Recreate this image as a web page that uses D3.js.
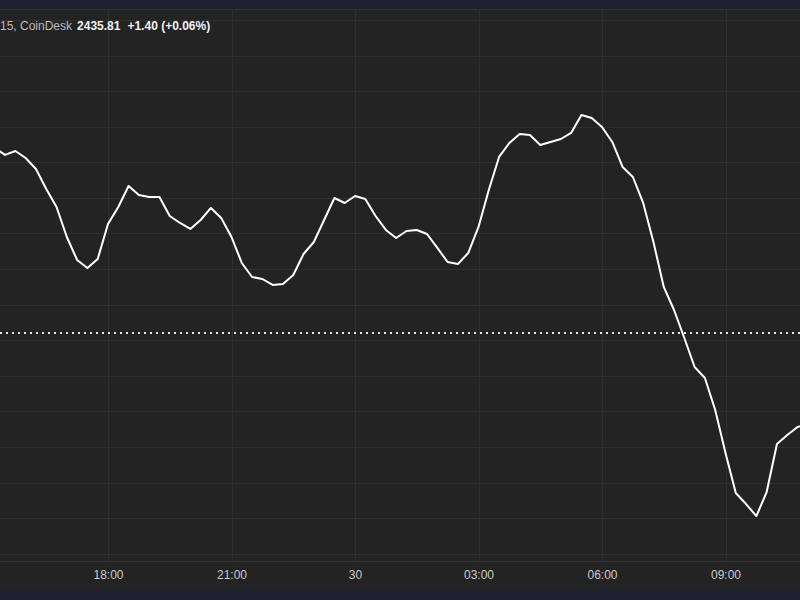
<!DOCTYPE html>
<html>
<head>
<meta charset="utf-8">
<script src="https://cdn.jsdelivr.net/npm/d3@7"></script>
<style>
  html, body { margin: 0; padding: 0; background: #1c2030; }
  svg { display: block; }
</style>
</head>
<body>
<svg id="chart" width="800" height="600"></svg>
<script>
// ---- data ----
const times = [
  "29 15:15","29 15:30","29 15:45","29 16:00","29 16:15","29 16:30","29 16:45","29 17:00","29 17:15","29 17:30","29 17:45",
  "29 18:00","29 18:15","29 18:30","29 18:45","29 19:00","29 19:15","29 19:30","29 19:45","29 20:00","29 20:15","29 20:30","29 20:45",
  "29 21:00","29 21:15","29 21:30","29 21:45","29 22:00","29 22:15","29 22:30","29 22:45","29 23:00","29 23:15","29 23:30","29 23:45",
  "30 00:00","30 00:15","30 00:30","30 00:45","30 01:00","30 01:15","30 01:30","30 01:45","30 02:00","30 02:15","30 02:30","30 02:45",
  "30 03:00","30 03:15","30 03:30","30 03:45","30 04:00","30 04:15","30 04:30","30 04:45","30 05:00","30 05:15","30 05:30","30 05:45",
  "30 06:00","30 06:15","30 06:30","30 06:45","30 07:00","30 07:15","30 07:30","30 07:45","30 08:00","30 08:15","30 08:30","30 08:45",
  "30 09:00","30 09:15","30 09:30","30 09:45","30 10:00","30 10:15","30 10:30","30 10:45","30 11:00"
];
const prices = [
  2462.01, 2461.03, 2461.59, 2460.60, 2459.06, 2456.25, 2453.72, 2449.50, 2446.27, 2445.15, 2446.41,
  2451.33, 2453.72, 2456.67, 2455.41, 2455.12, 2455.12, 2452.45, 2451.47, 2450.63, 2451.89, 2453.58, 2452.17,
  2449.50, 2445.85, 2443.88, 2443.60, 2442.76, 2442.90, 2444.16, 2447.11, 2448.80, 2451.89, 2454.98, 2454.28,
  2455.26, 2454.84, 2452.45, 2450.49, 2449.36, 2450.35, 2450.49, 2449.92, 2447.96, 2445.99, 2445.71, 2447.25,
  2450.91, 2456.11, 2460.75, 2462.71, 2463.98, 2463.84, 2462.43, 2462.85, 2463.27, 2464.12, 2466.65, 2466.23,
  2464.96, 2462.85, 2459.34, 2457.93, 2454.28, 2448.80, 2442.48, 2439.24, 2435.31, 2431.23, 2429.69, 2425.19,
  2419.15, 2413.53, 2411.98, 2410.29, 2413.67, 2420.41, 2421.68, 2422.80, 2423.22
];
const tickTimes = ["29 18:00","29 21:00","30 00:00","30 03:00","30 06:00","30 09:00"];
const tickLabels = ["18:00","21:00","30","03:00","06:00","09:00"];
const gridPrices = [2400,2405,2410,2415,2420,2425,2430,2435,2440,2445,2450,2455,2460,2465,2470,2475,2480];
const refPrice = 2436.0;
const titleSymbol = "15, CoinDesk";
const titleLast = "2435.81";
const titleChange = "+1.40 (+0.06%)";

// ---- layout ----
const W = 800, H = 600;
const paneTop = 9, paneBottom = 561, axisBottom = 590;
const parse = d3.utcParse("%d %H:%M");
const data = times.map((t, i) => ({ t: parse(t), v: prices[i] }));

const x = d3.scaleUtc()
  .domain([parse("29 18:00"), parse("30 09:00")])
  .range([108, 725.5]);
const y = d3.scaleLinear()
  .domain([2435, 2470])
  .range([340.2, 91.1]);

const svg = d3.select("#chart");

// backgrounds
svg.append("rect").attr("x", 0).attr("y", 0).attr("width", W).attr("height", H).attr("fill", "#1c2030");
svg.append("rect").attr("x", 0).attr("y", paneTop).attr("width", W).attr("height", axisBottom - paneTop).attr("fill", "#232323");

svg.append("defs").append("clipPath").attr("id", "pane")
  .append("rect").attr("x", 0).attr("y", paneTop + 1).attr("width", W).attr("height", paneBottom - paneTop - 1);

const pane = svg.append("g").attr("clip-path", "url(#pane)");

// horizontal grid
pane.append("g").selectAll("line").data(gridPrices).join("line")
  .attr("x1", 0).attr("x2", W)
  .attr("y1", d => Math.round(y(d)) + 0.5).attr("y2", d => Math.round(y(d)) + 0.5)
  .attr("stroke", "#2f2f2f").attr("stroke-width", 1);

// vertical grid
pane.append("g").selectAll("line").data(tickTimes).join("line")
  .attr("x1", d => Math.round(x(parse(d))) + 0.5).attr("x2", d => Math.round(x(parse(d))) + 0.5)
  .attr("y1", paneTop).attr("y2", paneBottom)
  .attr("stroke", "#2f2f2f").attr("stroke-width", 1);

// top border of pane
svg.append("line").attr("x1", 0).attr("x2", W).attr("y1", paneTop + 0.5).attr("y2", paneTop + 0.5)
  .attr("stroke", "#303030");

// reference dotted line
pane.append("line")
  .attr("x1", 0).attr("x2", W)
  .attr("y1", y(refPrice)).attr("y2", y(refPrice))
  .attr("stroke", "#e8e8e8").attr("stroke-width", 2)
  .attr("stroke-dasharray", "2 4");

// price line
pane.append("path").datum(data)
  .attr("fill", "none")
  .attr("stroke", "#ffffff")
  .attr("stroke-width", 2)
  .attr("stroke-linejoin", "round")
  .attr("d", d3.line().x(d => x(d.t)).y(d => y(d.v)));

// axis border
svg.append("line").attr("x1", 0).attr("x2", W).attr("y1", paneBottom + 0.5).attr("y2", paneBottom + 0.5)
  .attr("stroke", "#34363d");

// x axis
const xAxis = d3.axisBottom(x)
  .tickValues(tickTimes.map(parse))
  .tickFormat((d, i) => tickLabels[i])
  .tickSize(0).tickPadding(0);
const gx = svg.append("g").attr("transform", `translate(0, ${579})`).call(xAxis);
gx.select(".domain").remove();
gx.selectAll("text")
  .attr("dy", 0)
  .attr("fill", "#c8cad0")
  .style("font-family", "'Liberation Sans', Arial, sans-serif")
  .style("font-size", "12px");

// legend / title
const title = svg.append("text").attr("x", 0).attr("y", 29.5)
  .style("font-family", "'Liberation Sans', Arial, sans-serif")
  .style("font-size", "12px");
title.append("tspan").attr("fill", "#b9bcc4").text(titleSymbol);
title.append("tspan").attr("dx", 5).attr("fill", "#f2f2f2").attr("font-weight", "bold").text(titleLast);
title.append("tspan").attr("dx", 7).attr("fill", "#f2f2f2").attr("font-weight", "bold").text(titleChange);
</script>
</body>
</html>
